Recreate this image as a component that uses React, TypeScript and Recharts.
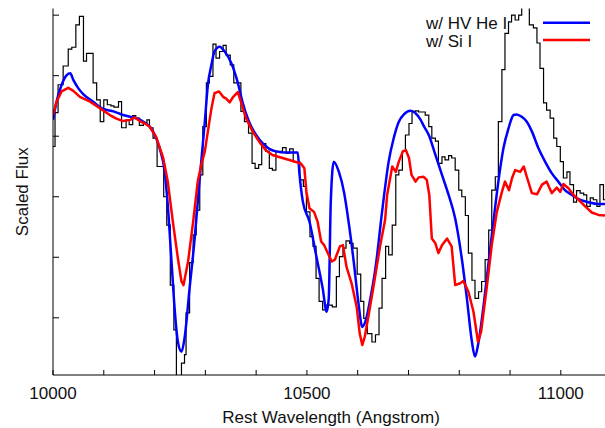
import { Legend, Line, LineChart, XAxis, YAxis } from "recharts";

// observed spectrum (histogram steps)
const obsWave = [
  10000, 10004, 10010, 10020, 10030, 10037, 10045, 10052, 10060, 10066, 10079, 10086,
  10093, 10100, 10107, 10114, 10120, 10129, 10135, 10144, 10150, 10157, 10163, 10170,
  10178, 10185, 10190, 10197, 10205, 10218, 10224, 10231, 10238, 10243, 10253, 10259,
  10262, 10269, 10276, 10282, 10289, 10295, 10302, 10308, 10315, 10321, 10328, 10335,
  10341, 10349, 10356, 10370, 10377, 10385, 10392, 10398, 10405, 10411, 10419, 10426,
  10432, 10439, 10452, 10459, 10466, 10473, 10486, 10493, 10499, 10506, 10512, 10518,
  10524, 10531, 10537, 10550, 10558, 10564, 10571, 10577, 10584, 10591, 10599, 10606,
  10612, 10619, 10628, 10635, 10642, 10648, 10655, 10661, 10668, 10675, 10681, 10688,
  10694, 10701, 10707, 10714, 10720, 10733, 10740, 10746, 10753, 10759, 10766, 10772,
  10779, 10785, 10792, 10799, 10805, 10812, 10818, 10825, 10831, 10838, 10844, 10851,
  10858, 10864, 10871, 10877, 10884, 10890, 10897, 10903, 10910, 10917, 10923, 10931,
  10938, 10946, 10953, 10959, 10966, 10972, 10979, 10986, 10992, 10999, 11005, 11012,
  11018, 11025, 11031, 11038, 11045, 11051, 11058, 11064, 11071, 11077, 11084, 11087,
];
const obsFlux = [
  3.83, 4.39, 4.85, 5.16, 5.44, 5.47, 5.84, 5.98, 5.24, 5.37, 4.88, 4.6,
  4.24, 4.6, 4.52, 4.5, 4.48, 4.57, 4.14, 4.27, 4.19, 4.34, 4.3, 4.18,
  4.22, 4.27, 4.14, 3.97, 3.5, 3.0, 2.53, 1.54, 0.8, -0.2, 0.25, 0.39,
  1.08, 1.91, 2.37, 2.78, 3.36, 4.16, 4.88, 4.99, 5.52, 5.29, 5.4, 5.5,
  5.34, 5.18, 4.88, 4.41, 4.24, 4.05, 3.55, 3.47, 3.53, 3.88, 3.75, 3.47,
  3.44, 3.75, 3.81, 3.72, 3.79, 3.58, 3.28, 3.17, 2.75, 2.34, 2.18, 1.65,
  1.27, 1.13, 1.21, 1.18, 1.68, 2.01, 2.15, 2.27, 2.23, 2.15, 1.72, 1.27,
  0.99, 0.74, 0.6, 0.72, 1.16, 1.65, 2.18, 2.04, 2.53, 3.36, 3.44, 3.75,
  4.02, 4.21, 4.41, 4.42, 4.4, 4.35, 4.16, 3.97, 3.92, 3.55, 3.66, 3.61,
  3.68, 3.64, 3.44, 3.11, 3.0, 2.69, 2.07, 1.62, 1.32, 1.43, 1.6, 1.96,
  2.45, 3.11, 3.33, 4.24, 5.1, 5.7, 5.89, 6.0, 5.92, 6.0, 6.19, 6.34,
  5.84, 5.79, 5.54, 5.12, 4.55, 4.43, 4.3, 3.97, 3.83, 3.58, 3.31, 3.41,
  3.2, 2.91, 3.1, 3.06, 3.03, 2.84, 2.98, 2.95, 2.84, 3.2, 2.95, 2.95,
];

// model with high-velocity He I
const heWave = [
  10000, 10007, 10017, 10027, 10034, 10040, 10050, 10060, 10079, 10099, 10119, 10138,
  10158, 10178, 10197, 10210, 10220, 10226, 10233, 10240, 10246, 10253, 10259, 10269,
  10279, 10289, 10299, 10305, 10312, 10318, 10328, 10338, 10351, 10364, 10373, 10386,
  10400, 10413, 10426, 10439, 10459, 10482, 10485, 10492, 10505, 10518, 10531, 10539,
  10543, 10547, 10553, 10563, 10573, 10583, 10593, 10602, 10609, 10616, 10625, 10635,
  10648, 10661, 10671, 10681, 10691, 10704, 10714, 10724, 10730, 10740, 10753, 10766,
  10779, 10792, 10805, 10815, 10825, 10831, 10838, 10848, 10858, 10868, 10877, 10887,
  10897, 10907, 10913, 10923, 10933, 10943, 10956, 10969, 10982, 10995, 11008, 11022,
  11035, 11054, 11074, 11087,
];
const heFlux = [
  4.27, 4.57, 4.85, 5.01, 5.04, 4.93, 4.79, 4.69, 4.57, 4.45, 4.41, 4.35,
  4.31, 4.24, 4.08, 3.8, 3.41, 2.86, 1.98, 1.1, 0.6, 0.44, 0.66, 1.49,
  2.31, 3.31, 4.24, 4.85, 5.18, 5.4, 5.48, 5.4, 5.21, 4.88, 4.57, 4.24,
  4.02, 3.88, 3.79, 3.75, 3.73, 3.73, 3.41, 2.92, 2.59, 2.04, 1.49, 1.1,
  1.32, 2.92, 3.58, 3.41, 3.08, 2.53, 1.87, 1.21, 0.85, 0.96, 1.32, 1.82,
  2.75, 3.58, 3.97, 4.24, 4.36, 4.42, 4.38, 4.27, 4.17, 4.02, 3.69, 3.36,
  3.03, 2.64, 1.98, 1.32, 0.6, 0.36, 0.6, 1.21, 1.93, 2.64, 3.25, 3.8,
  4.13, 4.35, 4.36, 4.32, 4.24, 4.08, 3.8, 3.58, 3.39, 3.25, 3.11, 3.03,
  2.96, 2.91, 2.88, 2.88,
];

// model with Si I
const siWave = [
  10000, 10007, 10017, 10030, 10040, 10053, 10073, 10093, 10112, 10125, 10138, 10152,
  10161, 10171, 10181, 10190, 10203, 10217, 10226, 10236, 10246, 10253, 10257, 10266,
  10276, 10285, 10292, 10299, 10305, 10312, 10318, 10327, 10335, 10341, 10348, 10354,
  10364, 10370, 10380, 10393, 10406, 10419, 10432, 10452, 10472, 10488, 10495, 10499,
  10505, 10514, 10521, 10528, 10534, 10541, 10549, 10555, 10565, 10571, 10578, 10588,
  10598, 10604, 10609, 10614, 10621, 10631, 10644, 10654, 10658, 10668, 10675, 10681,
  10689, 10695, 10701, 10706, 10714, 10720, 10730, 10736, 10741, 10746, 10753, 10759,
  10766, 10776, 10785, 10792, 10802, 10808, 10818, 10828, 10837, 10843, 10854, 10864,
  10874, 10884, 10890, 10898, 10904, 10910, 10920, 10927, 10933, 10943, 10953, 10963,
  10972, 10982, 10992, 10999, 11005, 11015, 11025, 11035, 11048, 11061, 11074, 11087,
];
const siFlux = [
  4.35, 4.57, 4.74, 4.8, 4.75, 4.65, 4.57, 4.46, 4.35, 4.29, 4.25, 4.27,
  4.31, 4.25, 4.21, 4.16, 3.99, 3.64, 3.25, 2.59, 1.98, 1.6, 1.54, 1.93,
  2.59, 3.25, 3.53, 3.75, 4.08, 4.46, 4.71, 4.74, 4.65, 4.62, 4.56, 4.64,
  4.73, 4.57, 4.3, 4.08, 3.91, 3.77, 3.69, 3.64, 3.59, 3.55, 3.47, 3.08,
  2.81, 2.75, 2.59, 2.26, 2.2, 2.07, 1.93, 1.96, 2.18, 2.2, 1.84, 1.57,
  1.18, 0.74, 0.55, 0.69, 1.02, 1.51, 2.18, 2.62, 3.03, 3.5, 3.41, 3.58,
  3.75, 3.77, 3.64, 3.36, 3.25, 3.32, 3.33, 3.28, 3.03, 2.31, 2.23, 2.07,
  2.2, 2.31, 2.18, 1.54, 1.57, 1.61, 1.43, 1.1, 0.6, 0.77, 1.49, 2.2,
  2.75, 3.08, 3.25, 3.11, 3.31, 3.44, 3.41, 3.5, 3.33, 3.06, 3.04, 3.2,
  3.25, 3.06, 3.15, 3.08, 3.21, 3.14, 3.03, 2.95, 2.84, 2.74, 2.7, 2.69,
];

const X_TICKS = [10000, 10100, 10200, 10300, 10400, 10500, 10600, 10700, 10800, 10900, 11000];
const X_LABELS = [10000, 10500, 11000];
const Y_TICKS = [1, 2, 3, 4, 5, 6];

const FONT = '"Liberation Sans", Arial, Helvetica, sans-serif';
const INK = "#111";

const toRows = (w: number[], f: number[]) => w.map((x, i) => ({ w: x, f: f[i] }));
const obsData = toRows(obsWave, obsFlux);
const heData = toRows(heWave, heFlux);
const siData = toRows(siWave, siFlux);

function BottomTick({ x, y, payload }: any) {
  return (
    <g>
      <line x1={x} x2={x} y1={y} y2={y - 5} stroke="#000" strokeWidth={1} />
      {X_LABELS.includes(payload.value) && (
        <text x={x} y={y + 23.5} textAnchor="middle" fontSize={17} fontFamily={FONT} fill={INK}>
          {payload.value}
        </text>
      )}
    </g>
  );
}

function TopTick({ x, y }: any) {
  return <line x1={x} x2={x} y1={y} y2={y + 5} stroke="#000" strokeWidth={1} />;
}

function LeftTick({ x, y }: any) {
  return <line x1={x} x2={x + 6} y1={y} y2={y} stroke="#000" strokeWidth={1} />;
}

function KeyBox({ payload }: any) {
  const items = (payload || []).filter((p: any) => p.type !== "none");
  return (
    <svg width={180} height={44} style={{ display: "block" }}>
      {items.map((p: any, i: number) => (
        <g key={p.value}>
          <text x={0} y={19.3 + i * 17.4} fontSize={17} fontFamily={FONT} fill={INK}>
            {p.value}
          </text>
          <line x1={117} x2={164} y1={12.7 + i * 17.4} y2={12.7 + i * 17.4} stroke={p.color} strokeWidth={2.5} />
        </g>
      ))}
    </svg>
  );
}

export default function App() {
  return (
    <div style={{ position: "absolute", left: 0, top: 0 }}>
      <LineChart width={605} height={428} margin={{ top: 8.5, right: 0, bottom: 0, left: 0 }}>
        <XAxis
          dataKey="w"
          type="number"
          domain={[10000, 11087]}
          allowDataOverflow
          ticks={X_TICKS}
          interval={0}
          height={53}
          tickSize={0}
          tickMargin={0}
          tickLine={false}
          tick={<BottomTick />}
          axisLine={{ stroke: "#000", strokeWidth: 1 }}
          label={{
            value: "Rest Wavelength (Angstrom)",
            position: "insideBottom",
            offset: 5,
            dx: 2,
            fontSize: 17,
            fontFamily: FONT,
            fill: INK,
          }}
        />
        <XAxis
          xAxisId="top"
          orientation="top"
          dataKey="w"
          type="number"
          domain={[10000, 11087]}
          allowDataOverflow
          ticks={X_TICKS}
          interval={0}
          height={0}
          tickSize={0}
          tickMargin={0}
          tickLine={false}
          tick={<TopTick />}
          axisLine={{ stroke: "#000", strokeWidth: 1 }}
        />
        <YAxis
          type="number"
          domain={[0.055, 6.11]}
          allowDataOverflow
          ticks={Y_TICKS}
          interval={0}
          width={53}
          tickSize={0}
          tickMargin={0}
          tickLine={false}
          tick={<LeftTick />}
          axisLine={{ stroke: "#000", strokeWidth: 1 }}
          label={{
            content: ({ viewBox }: any) => {
              const cx = viewBox.x + 28;
              const cy = viewBox.y + viewBox.height / 2;
              return (
                <text
                  x={cx}
                  y={cy}
                  transform={`rotate(-90 ${cx} ${cy})`}
                  textAnchor="middle"
                  fontSize={17}
                  fontFamily={FONT}
                  fill={INK}
                >
                  Scaled Flux
                </text>
              );
            },
          }}
        />
        <Legend
          layout="vertical"
          align="center"
          verticalAlign="middle"
          content={<KeyBox />}
          wrapperStyle={{ position: "absolute", left: 426, top: 10, width: 180, height: 44 }}
        />
        <Line
          data={obsData}
          dataKey="f"
          type="stepAfter"
          stroke="#000"
          strokeWidth={1.2}
          dot={false}
          legendType="none"
          isAnimationActive={false}
        />
        <Line
          data={heData}
          dataKey="f"
          name="w/ HV He I"
          type="monotone"
          stroke="#0000ff"
          strokeWidth={2.5}
          strokeLinejoin="round"
          dot={false}
          isAnimationActive={false}
        />
        <Line
          data={siData}
          dataKey="f"
          name="w/ Si I"
          type="linear"
          stroke="#ff0000"
          strokeWidth={2.5}
          strokeLinejoin="round"
          dot={false}
          isAnimationActive={false}
        />
      </LineChart>
    </div>
  );
}
